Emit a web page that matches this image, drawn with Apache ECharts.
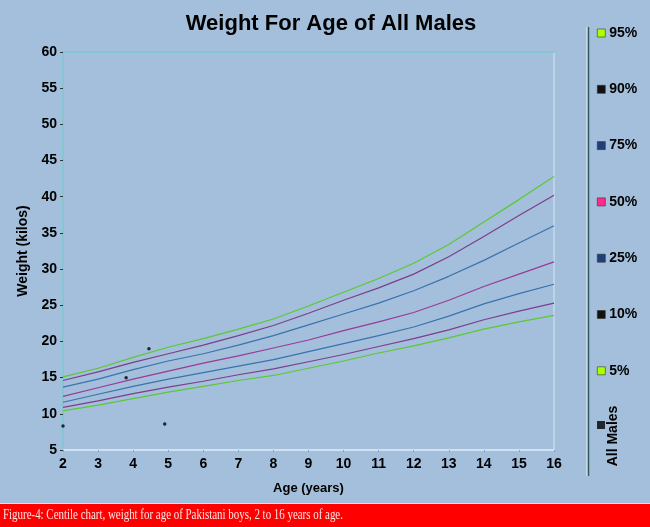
<!DOCTYPE html>
<html>
<head>
<meta charset="utf-8">
<script src="https://cdn.jsdelivr.net/npm/echarts@6/dist/echarts.min.js"></script>
<style>
  html, body { margin: 0; padding: 0; background: #a3bfdb; }
  #chart { width: 650px; height: 527px; }
</style>
</head>
<body>
<div id="chart"></div>
<script>
// ages (years) and centile weights (kg)
var ages = [2, 3, 4, 5, 6, 7, 8, 9, 10, 11, 12, 13, 14, 15, 16];
var p95 = [15.1, 16.3, 17.8, 19.2, 20.4, 21.7, 23.1, 24.9, 26.8, 28.7, 30.8, 33.4, 36.5, 39.6, 42.8];
var p90 = [14.6, 15.8, 17.1, 18.3, 19.5, 20.8, 22.2, 23.9, 25.7, 27.4, 29.3, 31.7, 34.5, 37.4, 40.2];
var p75 = [13.7, 14.8, 16.1, 17.3, 18.3, 19.5, 20.8, 22.3, 23.8, 25.3, 27.0, 29.0, 31.2, 33.6, 36.0];
var p50 = [12.4, 13.6, 14.8, 15.9, 17.0, 18.0, 19.1, 20.2, 21.5, 22.7, 24.0, 25.7, 27.6, 29.3, 31.0];
var p25 = [11.6, 12.7, 13.8, 14.8, 15.7, 16.6, 17.5, 18.6, 19.7, 20.8, 22.0, 23.5, 25.2, 26.6, 27.9];
var p10 = [10.9, 11.8, 12.8, 13.7, 14.5, 15.4, 16.2, 17.2, 18.2, 19.3, 20.4, 21.6, 23.0, 24.2, 25.3];
var p5  = [10.4, 11.2, 12.1, 13.0, 13.8, 14.6, 15.3, 16.3, 17.3, 18.4, 19.4, 20.5, 21.7, 22.7, 23.6];

// individual points (All Males)
var maleAges = [2, 3.8, 4.45, 4.9];
var maleWeights = [8.3, 15.0, 19.0, 8.6];

var centileNames = ['95%', '90%', '75%', '50%', '25%', '10%', '5%'];
var centileData = [p95, p90, p75, p50, p25, p10, p5];
var lineColors = ['#5cc832', '#7e3d8c', '#3a72ae', '#9a3a98', '#3a72ae', '#7e3d8c', '#5cc832'];
var legendColors = ['#aaff00', '#111111', '#1f3f7a', '#ff2a8c', '#1f3f7a', '#111111', '#aaff00'];

function pairs(xs, ys) {
  return xs.map(function (x, i) { return [x, ys[i]]; });
}

var chart = echarts.init(document.getElementById('chart'));

var series = centileNames.map(function (name, i) {
  return {
    name: name,
    type: 'line',
    data: pairs(ages, centileData[i]),
    showSymbol: false,
    symbol: 'none',
    lineStyle: { color: lineColors[i], width: 1.2 },
    itemStyle: { color: lineColors[i] },
    silent: true
  };
});
series.push({
  name: 'All Males',
  type: 'scatter',
  data: pairs(maleAges, maleWeights),
  symbolSize: 3.5,
  itemStyle: { color: '#000' }
});

var font = 'Liberation Sans, Arial, sans-serif';

chart.setOption({
  backgroundColor: '#a3bfdb',
  animation: false,
  title: {
    text: 'Weight For Age of All Males',
    left: 326,
    textAlign: 'center',
    top: 8,
    textStyle: { fontFamily: font, fontWeight: 'bold', fontSize: 22, color: '#000' }
  },
  legend: [{
    orient: 'vertical',
    left: 592,
    top: 21,
    itemWidth: 8,
    itemHeight: 8,
    itemGap: 42.3,
    icon: 'rect',
    selectedMode: false,
    textStyle: { fontFamily: font, fontWeight: 'bold', fontSize: 14, color: '#000', padding: [0, 0, 0, -1] },
    data: centileNames.map(function (n, i) {
      return { name: n, itemStyle: { color: legendColors[i], borderColor: '#333', borderWidth: 0.6 } };
    })
  }, {
    orient: 'vertical',
    left: 592,
    top: 416,
    itemWidth: 8,
    itemHeight: 8,
    icon: 'rect',
    selectedMode: false,
    formatter: function () { return ''; },
    data: [{ name: 'All Males', itemStyle: { color: '#000' } }]
  }],
  grid: {
    left: 63,
    right: 96,
    top: 52,
    bottom: 77,
    show: true,
    borderColor: '#d6e6f2',
    borderWidth: 1
  },
  xAxis: [{
    type: 'value',
    min: 2,
    max: 16,
    interval: 1,
    name: 'Age (years)',
    nameLocation: 'middle',
    nameGap: 32,
    nameTextStyle: { fontFamily: font, fontWeight: 'bold', fontSize: 13, color: '#000' },
    axisLine: { lineStyle: { color: '#d6e6f2', width: 1.5 } },
    axisTick: { show: true, length: 2, lineStyle: { color: '#8aa0b8' } },
    axisLabel: { fontFamily: font, fontWeight: 'bold', fontSize: 14, color: '#000', margin: 7 },
    splitLine: { show: false }
  }, {
    type: 'value',
    position: 'top',
    min: 2,
    max: 16,
    axisLine: { lineStyle: { color: '#84c6d2', width: 2 } },
    axisTick: { show: false },
    axisLabel: { show: false },
    splitLine: { show: false }
  }],
  yAxis: {
    type: 'value',
    min: 5,
    max: 60,
    interval: 5,
    name: 'Weight (kilos)',
    nameLocation: 'middle',
    nameGap: 31,
    nameTextStyle: { fontFamily: font, fontWeight: 'bold', fontSize: 14, color: '#000' },
    axisLine: { show: true, lineStyle: { color: '#84c6d2', width: 2 } },
    axisTick: { show: true, length: 3, lineStyle: { color: '#333' } },
    axisLabel: { fontFamily: font, fontWeight: 'bold', fontSize: 14, color: '#000', margin: 6 },
    splitLine: { show: false }
  },
  series: series,
  graphic: [
    { type: 'line', shape: { x1: 587, y1: 27, x2: 587, y2: 476 }, style: { stroke: '#e8f2f8', lineWidth: 1 } },
    { type: 'line', shape: { x1: 588.5, y1: 27, x2: 588.5, y2: 476 }, style: { stroke: '#2e5a5a', lineWidth: 1.5 } },
    {
      type: 'text',
      x: 613,
      y: 436,
      rotation: Math.PI / 2,
      style: {
        text: 'All Males',
        font: 'bold 14px ' + font,
        fill: '#000',
        textAlign: 'center',
        textVerticalAlign: 'middle'
      }
    },
    { type: 'rect', shape: { x: 0, y: 503, width: 650, height: 24 }, style: { fill: '#ff0000' } },
    { type: 'line', shape: { x1: 0, y1: 503.5, x2: 650, y2: 503.5 }, style: { stroke: '#ffd0d0', lineWidth: 1 } },
    {
      type: 'text',
      x: 3,
      y: 515,
      scaleX: 0.78,
      style: {
        text: 'Figure-4: Centile chart, weight for age of Pakistani boys, 2 to 16 years of age.',
        font: '14px Liberation Serif, Times New Roman, serif',
        fill: '#fbe6e6',
        textVerticalAlign: 'middle'
      }
    }
  ]
});
</script>
</body>
</html>
